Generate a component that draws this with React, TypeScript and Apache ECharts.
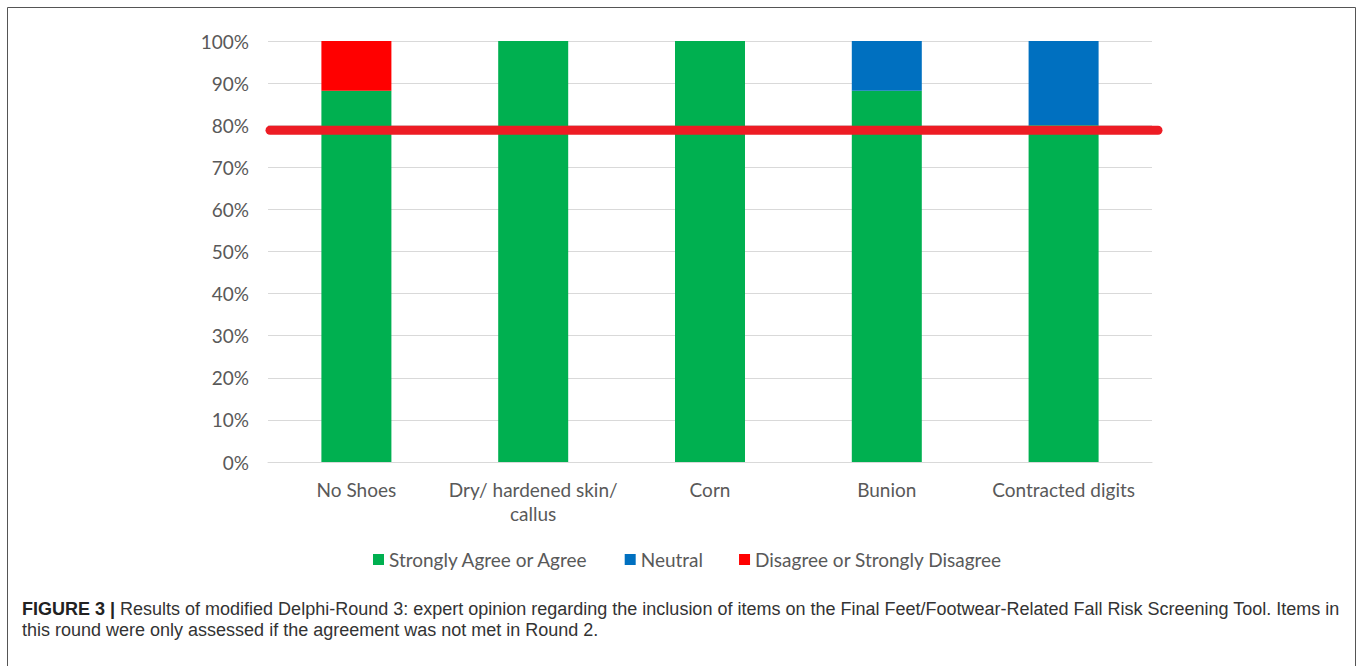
import React, { useEffect, useRef } from "react";
import * as echarts from "echarts";

const categories = ["No Shoes", "Dry/ hardened skin/\ncallus", "Corn", "Bunion", "Contracted digits"];
const agreeValues = [0.882, 1.0, 1.0, 0.882, 0.8];
const neutralValues = [0, 0, 0, 0.118, 0.2];
const disagreeValues = [0.118, 0, 0, 0, 0];
const seriesNames = ["Strongly Agree or Agree", "Neutral", "Disagree or Strongly Disagree"];
const thresholdValue = 0.788;
const captionBold = "FIGURE 3 |";
const captionLine1 =
  " Results of modified Delphi-Round 3: expert opinion regarding the inclusion of items on the Final Feet/Footwear-Related Fall Risk Screening Tool. Items in";
const captionLine2 = "this round were only assessed if the agreement was not met in Round 2.";

const FONT = "Lato, 'Open Sans', sans-serif";
const CAP_FONT = "'Liberation Sans', Arial, sans-serif";

export default function App() {
  const ref = useRef<HTMLDivElement>(null);
  useEffect(() => {
    if (!ref.current) return;
    const chart = echarts.init(ref.current, null, { renderer: "svg" });
    chart.setOption({
      animation: false,
      backgroundColor: "#ffffff",
      grid: { left: 268, right: 205, top: 41, bottom: 204 },
      legend: {
        data: seriesNames,
        top: 545,
        left: 368,
        icon: "rect",
        itemWidth: 11,
        itemHeight: 11,
        itemGap: 36,
        textStyle: { fontFamily: FONT, fontSize: 19, color: "#595959" },
      },
      xAxis: {
        type: "category",
        data: categories,
        axisLine: { lineStyle: { color: "#d9d9d9", width: 1 } },
        axisTick: { show: false },
        axisLabel: {
          interval: 0,
          margin: 15,
          fontFamily: FONT,
          fontSize: 19,
          lineHeight: 24,
          color: "#595959",
        },
      },
      yAxis: {
        type: "value",
        min: 0,
        max: 1,
        interval: 0.1,
        axisLine: { show: false },
        axisTick: { show: false },
        splitLine: { lineStyle: { color: "#d9d9d9", width: 1 } },
        axisLabel: {
          margin: 19,
          fontFamily: FONT,
          fontSize: 19,
          color: "#595959",
          formatter: (v: number) => Math.round(v * 100) + "%",
        },
      },
      series: [
        {
          name: seriesNames[0],
          type: "bar",
          stack: "total",
          barWidth: 70,
          itemStyle: { color: "#00b050" },
          data: agreeValues,
        },
        {
          name: seriesNames[1],
          type: "bar",
          stack: "total",
          barWidth: 70,
          itemStyle: { color: "#0070c0" },
          data: neutralValues,
        },
        {
          name: seriesNames[2],
          type: "bar",
          stack: "total",
          barWidth: 70,
          itemStyle: { color: "#ff0000" },
          data: disagreeValues,
        },
      ],
    });
    const yPix = chart.convertToPixel({ yAxisIndex: 0 }, thresholdValue) as number;
    chart.setOption({
      graphic: [
        {
          type: "rect",
          shape: { x: 7.5, y: 7.5, width: 1348, height: 700 },
          style: { fill: "none", stroke: "#555555", lineWidth: 1 },
          silent: true,
        },
        {
          type: "line",
          shape: { x1: 270, y1: yPix, x2: 1158, y2: yPix },
          style: { stroke: "#ed1c24", lineWidth: 9, lineCap: "round" },
          z: 100,
          silent: true,
        },
        {
          type: "text",
          x: 22,
          y: 609,
          style: {
            text: "{b|" + captionBold + "}" + captionLine1,
            fontFamily: CAP_FONT,
            fontSize: 18,
            fill: "#333333",
            verticalAlign: "middle",
            rich: {
              b: { fontFamily: CAP_FONT, fontSize: 18, fontWeight: "bold", fill: "#222222" },
            },
          },
        },
        {
          type: "text",
          x: 22,
          y: 630,
          style: {
            text: captionLine2,
            fontFamily: CAP_FONT,
            fontSize: 18,
            fill: "#333333",
            verticalAlign: "middle",
          },
        },
      ],
    });
    return () => chart.dispose();
  }, []);
  return (
    <div
      ref={ref}
      style={{ position: "fixed", left: 0, top: 0, width: 1357, height: 666 }}
    />
  );
}
